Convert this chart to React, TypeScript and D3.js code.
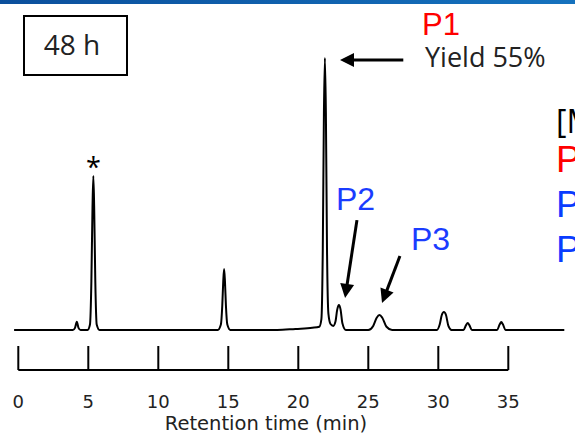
import React from 'react';
import * as d3 from 'd3';

// chromatogram trace (min, relative signal)
const retentionTime = [
  -0.3, 3.9, 4.05, 4.18, 4.3, 4.45,
  4.95, 5.12, 5.22, 5.3, 5.36, 5.42, 5.5, 5.6, 5.8,
  14.25, 14.47, 14.57, 14.64, 14.7, 14.76, 14.83, 14.93, 15.15,
  18.5, 19.8, 21.0, 21.5, 21.65, 21.75, 21.83, 21.9, 21.97, 22.05, 22.15, 22.3,
  22.5, 22.65, 22.78, 22.9, 23.02, 23.15, 23.4,
  25.0, 25.35, 25.6, 25.8, 26.0, 26.3, 26.7,
  29.9, 30.1, 30.25, 30.4, 30.55, 30.72, 30.95,
  31.8, 31.98, 32.1, 32.22, 32.4,
  34.2, 34.38, 34.5, 34.62, 34.8, 39.0,
];
const signal = [
  0, 0, 0.8, 3, 0.8, 0,
  0, 2, 18, 45, 56.6, 45, 18, 2, 0,
  0, 2, 9, 18, 22.4, 18, 9, 2, 0,
  0, 0.4, 0.8, 1.2, 4, 30, 80, 100, 80, 30, 6, 2.2,
  1.5, 3, 7.5, 9.2, 7.5, 2.5, 0,
  0, 1.5, 4.5, 5.5, 4.5, 1.2, 0,
  0, 2, 5.5, 6.6, 5.5, 1.5, 0,
  0, 1.8, 2.6, 1.8, 0,
  0, 2, 2.9, 2, 0, 0,
];

const xTicks = [0, 5, 10, 15, 20, 25, 30, 35];

// arrows: [tail time, tail signal, tip time, tip signal]
const arrowP1 = [27.5, 99.3, 22.98, 99.3];
const arrowP2 = [24.19, 40.4, 23.34, 11.8];
const arrowP3 = [27.26, 27.2, 25.98, 9.9];

const sideLabels = ['P', 'P', 'P'];
const sideColors = ['#ff0000', '#0a3cff', '#0a3cff'];

const W = 575, H = 435;
const segoe = '"Open Sans", "Noto Sans", sans-serif';
const wide = '"DejaVu Sans", sans-serif';
const arial = '"Liberation Sans", Arial, sans-serif';

const App = () => {
  const x = d3.scaleLinear().domain([0, 35]).range([18.3, 508.3]);
  const y = d3.scaleLinear().domain([0, 100]).range([330, 58]);

  const line = d3.line<number>()
    .x((d, i) => x(retentionTime[i]))
    .y(d => y(d))
    .curve(d3.curveMonotoneX);

  const arrow = (a: number[], key: string) => {
    const x1 = x(a[0]), y1 = y(a[1]), x2 = x(a[2]), y2 = y(a[3]);
    const len = Math.hypot(x2 - x1, y2 - y1);
    const ux = (x2 - x1) / len, uy = (y2 - y1) / len;
    const head = 14, half = 7;
    const bx = x2 - ux * head, by = y2 - uy * head;
    const pts = [
      [x2, y2],
      [bx - uy * half, by + ux * half],
      [bx + uy * half, by - ux * half],
    ];
    return (
      <g key={key}>
        <line x1={x1} y1={y1} x2={bx + ux * 2} y2={by + uy * 2} stroke="#000" strokeWidth={3} />
        <polygon points={pts.map(p => p.join(',')).join(' ')} fill="#000" />
      </g>
    );
  };

  return (
    <svg width={W} height={H} style={{position: 'absolute', left: 0, top: 0, background: '#fff'}}>
      <defs>
        <linearGradient id="topbar" x1="0" x2="1" y1="0" y2="0">
          <stop offset="0" stopColor="#0b4f9c" />
          <stop offset="1" stopColor="#1572be" />
        </linearGradient>
      </defs>
      <rect x={0} y={0} width={W} height={4} fill="url(#topbar)" />

      {/* 48 h box */}
      <rect x={24} y={16} width={103} height={59} fill="none" stroke="#000" strokeWidth={2} />
      <text x={72} y={55} textAnchor="middle" fontFamily={segoe} fontSize={28} fill="#222">48 h</text>

      {/* trace */}
      <path d={line(signal) || ''} fill="none" stroke="#000" strokeWidth={2} strokeLinejoin="round" />

      <text x={x(5.36)} y={177} textAnchor="middle" fontFamily={segoe} fontSize={27} fill="#000">*</text>

      {/* axis */}
      <g stroke="#000" strokeWidth={2}>
        <line x1={x(0)} x2={x(35)} y1={370} y2={370} />
        {xTicks.map(t => (
          <line key={t} x1={x(t)} x2={x(t)} y1={346} y2={370} />
        ))}
      </g>
      {xTicks.map(t => (
        <text key={t} x={x(t)} y={408} textAnchor="middle" fontFamily={wide} fontSize={18} fill="#222">{t}</text>
      ))}
      <text x={266} y={430} textAnchor="middle" fontFamily={wide} fontSize={19.5} fill="#222">Retention time (min)</text>

      {/* annotations */}
      {arrow(arrowP1, 'a1')}
      {arrow(arrowP2, 'a2')}
      {arrow(arrowP3, 'a3')}
      <text x={422} y={35} fontFamily={arial} fontSize={31} fill="#ff0000">P1</text>
      <text x={425} y={67} fontFamily={segoe} fontSize={27} fill="#222">Yield 55%</text>
      <text x={336} y={210} fontFamily={arial} fontSize={32} fill="#1a3cff">P2</text>
      <text x={411} y={250} fontFamily={arial} fontSize={32} fill="#1a3cff">P3</text>

      {/* clipped legend at right edge */}
      <text x={556} y={133} fontFamily={segoe} fontSize={32} fill="#000">[M</text>
      {sideLabels.map((s, i) => (
        <text key={i} x={556} y={172 + i * 45} fontFamily={arial} fontSize={37} fill={sideColors[i]}>{s}</text>
      ))}
    </svg>
  );
};

export default App;
